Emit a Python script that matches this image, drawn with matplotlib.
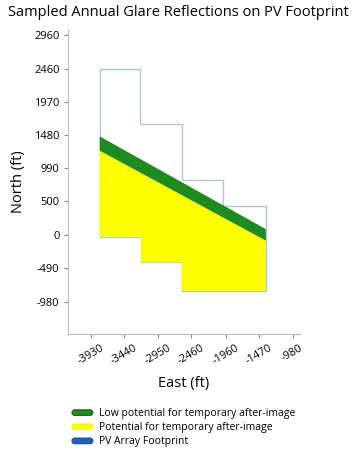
import matplotlib
matplotlib.use("Agg")
import matplotlib.pyplot as plt
from matplotlib.patches import Polygon, FancyBboxPatch
from matplotlib.legend_handler import HandlerPatch
from matplotlib.patches import Patch

plt.rcParams['font.family'] = ['Open Sans', 'DejaVu Sans']

# Data (ft)
footprint_x = [-3800, -3210, -3210, -2600, -2600, -2000, -2000, -1370, -1370, -2600, -2600, -3200, -3200, -3800]
footprint_y = [2450, 2450, 1640, 1640, 815, 815, 430, 430, -820, -820, -400, -400, -20, -20]

yellow_x = [-3800, -1370, -1370, -2600, -2600, -3200, -3200, -3800]
yellow_y = [1250, -80, -820, -820, -400, -400, -20, -20]

green_x = [-3800, -1370, -1370, -3800]
green_y = [1460, 90, -80, 1250]

xticks = [-3930, -3440, -2950, -2460, -1960, -1470, -980]
yticks = [-980, -490, 0, 500, 990, 1480, 1970, 2460, 2960]

legend_labels = ['Low potential for temporary after-image',
                 'Potential for temporary after-image',
                 'PV Array Footprint']
legend_colors = ['#1f8a1f', '#ffff00', '#1f5fbf']
legend_edges = ['#156615', '#f5f500', '#164a99']

fig = plt.figure(figsize=(3.57, 4.53), dpi=100)
ax = fig.add_axes([0.19, 0.262, 0.65, 0.672])

ax.add_patch(Polygon(list(zip(yellow_x, yellow_y)), closed=True, facecolor='#ffff00', edgecolor='none', zorder=2))
ax.add_patch(Polygon(list(zip(green_x, green_y)), closed=True, facecolor='#1f8a1f', edgecolor='none', zorder=3))
ax.add_patch(Polygon(list(zip(footprint_x, footprint_y)), closed=True, facecolor='none', edgecolor='#a9c8e0', linewidth=1.0, zorder=1))

ax.set_xlim(-4266, -873)
ax.set_ylim(-1463, 3033)
ax.set_xticks(xticks)
ax.set_yticks(yticks)
ax.set_xticklabels([str(v) for v in xticks], rotation=30, fontsize=8)
ax.set_yticklabels([str(v) for v in yticks], fontsize=8)
for s in ['top', 'right']:
    ax.spines[s].set_visible(False)
for s in ['left', 'bottom']:
    ax.spines[s].set_color('#bbbbbb')
ax.tick_params(axis='y', length=3, color='#888888', pad=3)
ax.tick_params(axis='x', length=3, color='#888888', pad=3)

ax.set_xlabel('East (ft)', fontsize=10.5, labelpad=7)
ax.set_ylabel('North (ft)', fontsize=10.5, labelpad=6)
fig.suptitle('Sampled Annual Glare Reflections on PV Footprint', fontsize=10.5, x=0.5, y=0.988)


class RoundHandler(HandlerPatch):
    def create_artists(self, legend, orig_handle, xdescent, ydescent, width, height, fontsize, trans):
        p = FancyBboxPatch((-xdescent, -ydescent + height * 0.15), width, height * 0.7,
                           boxstyle='round,pad=0,rounding_size=2',
                           facecolor=orig_handle.get_facecolor(), edgecolor=orig_handle.get_edgecolor(),
                           linewidth=0.8, transform=trans)
        return [p]


handles = [Patch(facecolor=c, edgecolor=e, label=l) for c, e, l in zip(legend_colors, legend_edges, legend_labels)]
fig.legend(handles=handles, loc='upper left', bbox_to_anchor=(0.19, 0.108), frameon=False,
           fontsize=7.5, handlelength=2.0, handleheight=0.8, handletextpad=0.6, labelspacing=0.3,
           borderaxespad=0, handler_map={Patch: RoundHandler()})

fig.savefig('out.png', dpi=100)
